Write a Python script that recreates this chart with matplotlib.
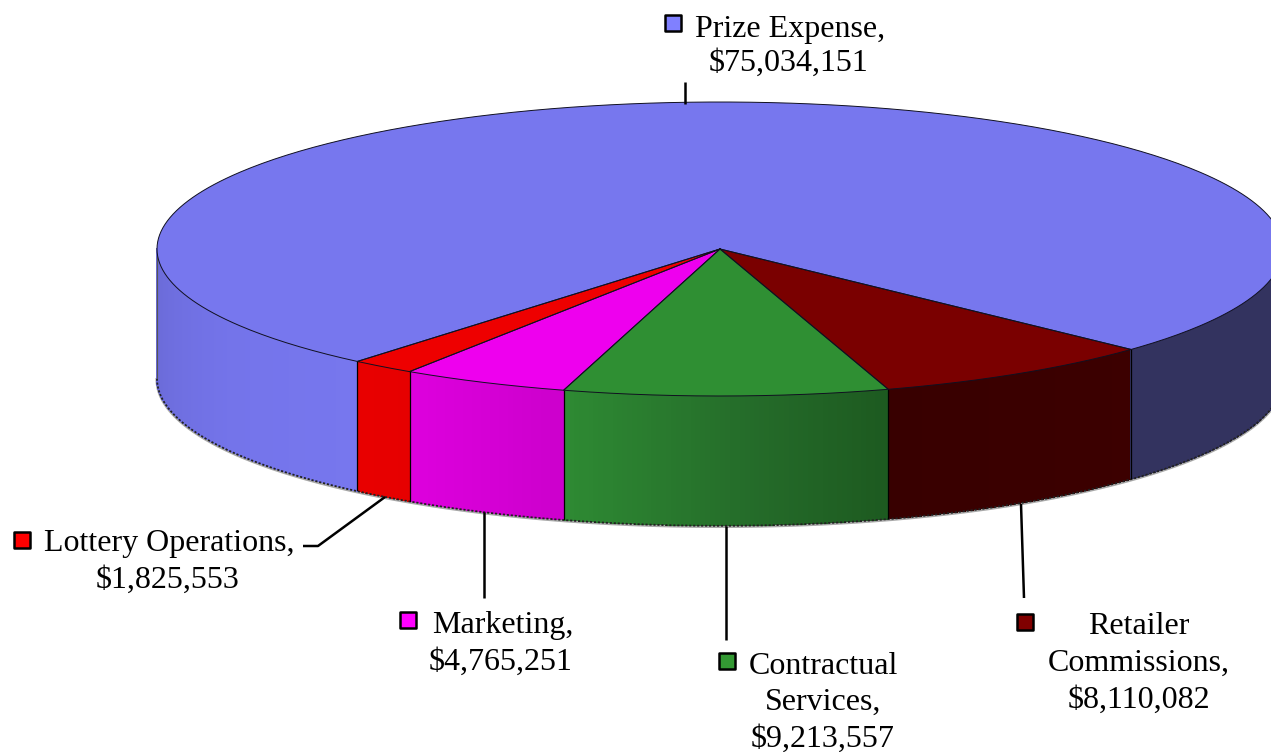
import numpy as np
import matplotlib
matplotlib.use('Agg')
import matplotlib.pyplot as plt
from matplotlib.patches import Polygon, Rectangle

# slices in drawing order, clockwise on screen from the right edge of prize expense
names = ['Retailer Commissions', 'Contractual Services', 'Marketing', 'Lottery Operations', 'Prize Expense']
values = [8110082, 9213557, 4765251, 1825553, 75034151]

top_colors = ['#7a0000', '#2f8f33', '#ee00ee', '#ee0000', '#7777ee']
key_colors = ['#800000', '#339933', '#ff00ff', '#ff0000', '#8080ff']

W, H = 1271, 752
cx, cy = 720, 249
rx, ry = 563, 147
depth = 129
start = 43.1

plt.rcParams['font.family'] = ['Liberation Serif', 'DejaVu Serif']

fig = plt.figure(figsize=(W / 100, H / 100), dpi=100)
ax = fig.add_axes([0, 0, 1, 1])
ax.set_xlim(0, W)
ax.set_ylim(H, 0)
ax.axis('off')


def rim(t, dy=0):
    t = np.radians(t)
    return cx + rx * np.cos(t), cy + ry * np.sin(t) + dy


def side_color(i, t):
    # shading stops of each slice's side, by angle
    stops = {
        0: ([42, 73], ['#3c0000', '#380000']),
        1: ([73, 88, 106], ['#1d5a20', '#256d2a', '#2e8a33']),
        2: ([106, 123], ['#cc00cc', '#dd00dd']),
        3: ([123, 130], ['#e60000', '#e80000']),
        4: ([130, 150, 180], ['#7777ee', '#7474ea', '#6a6ad6']),
    }
    ts, cs = stops[i]
    rgb = np.array([matplotlib.colors.to_rgb(c) for c in cs])
    return [np.interp(t, ts, rgb[:, k]) for k in range(3)]


fractions = np.array(values) / sum(values)
edges = start + np.concatenate([[0], np.cumsum(fractions)]) * 360

# bottom edge with the grainy shadow goes under the walls
ts = np.linspace(0, 180, 721)
bx, by = rim(ts, depth)
ax.plot(bx, by + 1.5, color='#a8a8a8', lw=2.2, zorder=1)

# side walls
for i in range(len(values)):
    a0, a1 = edges[i], edges[i + 1]
    if i == 4:
        spans = [(a0, 180), (360, a1)]
    else:
        spans = [(a0, a1)]
    for s0, s1 in spans:
        ts = np.linspace(s0, s1, max(2, int((s1 - s0) * 2) + 1))
        for t0, t1 in zip(ts[:-1], ts[1:]):
            x0, y0 = rim(t0)
            x1, y1 = rim(t1)
            if t0 >= 360:
                col = '#33335f'
            else:
                col = side_color(i, (t0 + t1) / 2)
            ax.add_patch(Polygon([(x0, y0), (x1, y1), (x1, y1 + depth), (x0, y0 + depth)],
                                 closed=True, fc=col, ec=col, lw=1.0, antialiased=False, zorder=2))

ts = np.linspace(0, 180, 721)
bx, by = rim(ts, depth)
ax.plot(bx, by + 0.8, color='#222222', lw=1.3, ls=(0, (1.2, 1.0)), zorder=3)

# vertical seams between the side walls
for t in edges[:5]:
    x, y = rim(t)
    ax.plot([x, x], [y, y + depth], color='black', lw=0.9, zorder=4)
x, y = rim(180)
ax.plot([x, x], [y, y + depth], color='#555555', lw=0.8, zorder=4)

# top face
for i in range(len(values)):
    ts = np.linspace(edges[i], edges[i + 1], 400)
    x, y = rim(ts)
    pts = np.column_stack([np.r_[cx, x], np.r_[cy, y]])
    ax.add_patch(Polygon(pts, closed=True, fc=top_colors[i], ec='none', zorder=5))
    ax.plot(np.r_[cx, x, cx], np.r_[cy, y, cy], color='#101020', lw=0.7, zorder=6)

money = [f'${v:,}' for v in values]

# leader lines
leaders = [
    ([1021, 1024], [504, 598]),
    ([726, 726], [526, 640]),
    ([484, 484], [512, 598]),
    ([303, 318, 385], [546, 546, 497]),
    ([685, 685], [82, 104]),
]
for lx, ly in leaders:
    ax.plot(lx, ly, color='black', lw=1.8, solid_capstyle='butt', zorder=7)

# label lines: text, x, y, alignment
labels = [
    [('Retailer', 1139, 626, 'center'), ('Commissions,', 1139, 663, 'center'), (money[0], 1139, 700, 'center')],
    [('Contractual', 749, 666, 'left'), ('Services,', 823, 702, 'center'), (money[1], 823, 739, 'center')],
    [('Marketing,', 432, 626, 'left'), (money[2], 501, 662, 'center')],
    [('Lottery Operations,', 44, 544, 'left'), (money[3], 168, 580, 'center')],
    [('Prize Expense,', 695, 29, 'left'), (money[4], 789, 63, 'center')],
]
keys = [(1025, 622), (727, 661), (408, 620), (22, 540), (673, 23)]

for i, lines in enumerate(labels):
    for s, x, y, ha in lines:
        ax.text(x, y, s, ha=ha, va='center', fontsize=23, color='black', zorder=8)
    kx, ky = keys[i]
    ax.add_patch(Rectangle((kx - 8, ky - 8), 16, 16, fc=key_colors[i], ec='black', lw=1.8,
                           joinstyle='round', zorder=8))

fig.savefig('out.png', dpi=100, facecolor='white')
